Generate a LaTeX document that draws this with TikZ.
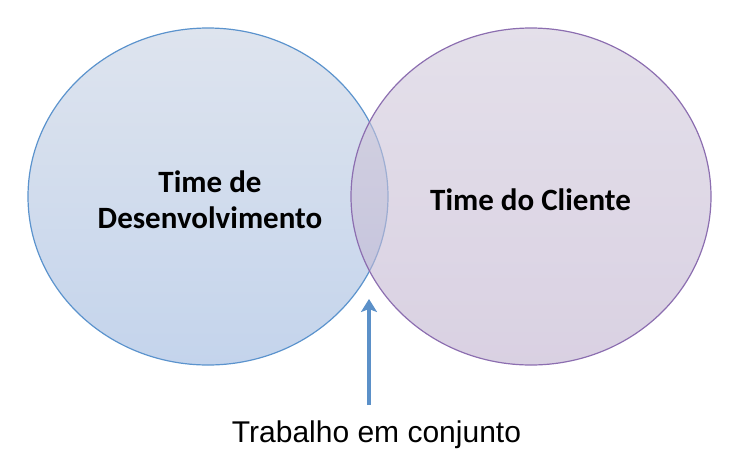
\documentclass[tikz,border=0pt]{standalone}
\usepackage{fontspec}
\setmainfont{Carlito}
\newfontfamily\arialfont{Liberation Sans}
\usetikzlibrary{shapes.geometric,arrows.meta}
\definecolor{leftline}{RGB}{91,147,205}
\definecolor{lefttop}{RGB}{222,228,238}
\definecolor{leftbot}{RGB}{196,212,236}
\definecolor{rightline}{RGB}{140,110,176}
\definecolor{righttop}{RGB}{210,203,220}
\definecolor{rightbot}{RGB}{192,178,207}
\definecolor{arrowblue}{RGB}{91,144,200}
\begin{document}
\begin{tikzpicture}[x=1pt,y=-1pt,
  setbox/.style={ellipse, minimum width=360pt, minimum height=337pt, inner sep=0pt, line width=1.2pt},
  teamlabel/.style={font=\fontsize{31}{36}\selectfont\bfseries, align=center, text=black},
  jointlabel/.style={font=\arialfont\fontsize{30}{36}\selectfont, anchor=base, text=black},
  arrowline/.style={draw=arrowblue, line width=4pt, -{Stealth[length=13pt,width=16pt,inset=3pt]}}]
\useasboundingbox (0,0) rectangle (747,464);
\node[setbox, draw=leftline, top color=lefttop, bottom color=leftbot] (dev) at (208,196.5) {};
\node[setbox, draw=rightline, top color=righttop, bottom color=rightbot, fill opacity=0.6] (cli) at (531,196.5) {};
\node[teamlabel, anchor=center] (devtext) at (210,200) {Time de\\Desenvolvimento};
\node[teamlabel, anchor=base] (clitext) at (530.5,210) {Time do Cliente};
\node[jointlabel] (joint) at (376.5,442) {Trabalho em conjunto};
\coordinate (tail) at (369,405);
\coordinate (tip) at (369,299);
\draw[arrowline] (tail) -- (tip);
\end{tikzpicture}
\end{document}
